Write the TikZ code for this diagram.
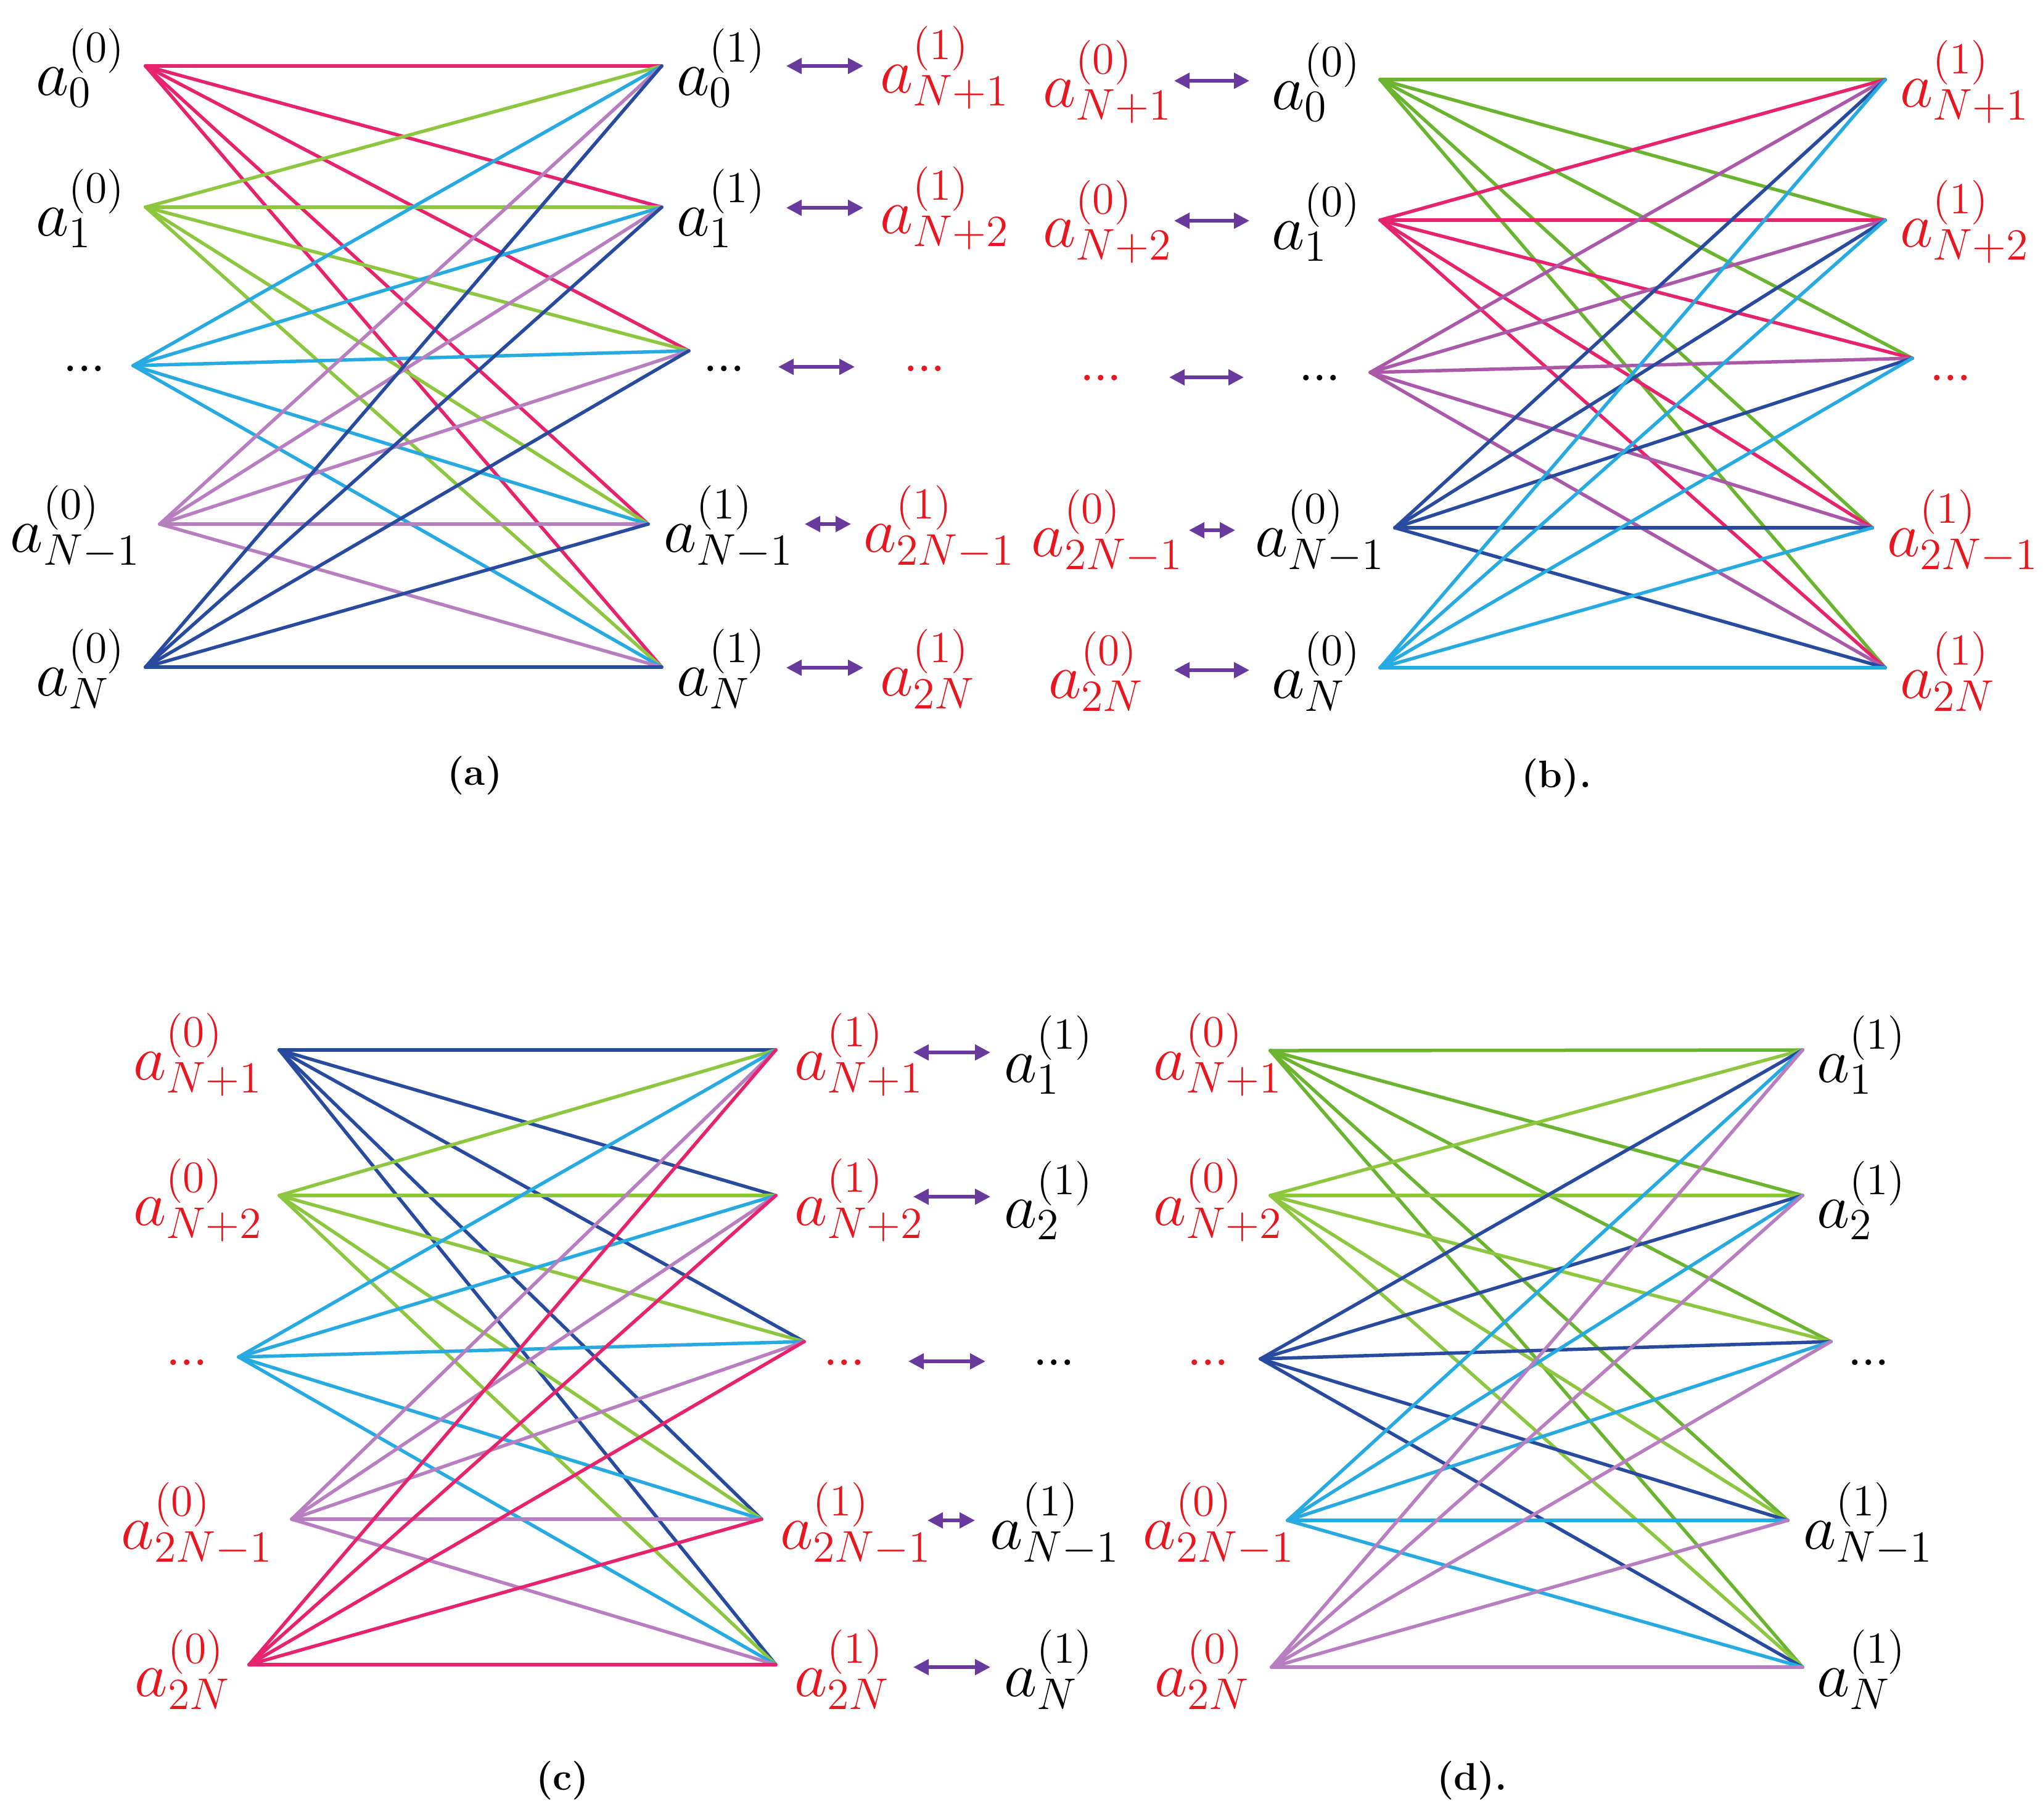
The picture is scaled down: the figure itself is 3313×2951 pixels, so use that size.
\documentclass[tikz,border=0pt]{standalone}
\usetikzlibrary{arrows.meta}
\definecolor{cpink}{RGB}{232,35,110}
\definecolor{cgreen}{RGB}{141,198,63}
\definecolor{cgreenD}{RGB}{106,180,47}
\definecolor{ccyan}{RGB}{39,170,225}
\definecolor{corchid}{RGB}{183,126,192}
\definecolor{cmag}{RGB}{170,88,168}
\definecolor{cblue}{RGB}{40,75,160}
\definecolor{carrow}{RGB}{105,58,158}
\definecolor{cred}{RGB}{232,22,30}
\newcommand\dts{.\kern-1.1pt.\kern-1.1pt.}
\begin{document}
\begin{tikzpicture}[x=0.2pt,y=-0.2pt,
  edge/.style={line width=1.1pt,line cap=round},
  dbl/.style={carrow,line width=1.1pt,{Triangle[length=5pt,width=5pt]}-{Triangle[length=5pt,width=5pt]}},
  lab/.style={inner sep=0pt,font=\fontsize{22}{26}\selectfont},
  rlab/.style={lab,text=cred},
  captext/.style={inner sep=0pt,font=\fontsize{12.5}{15}\selectfont\bfseries}]
\useasboundingbox (0,0) rectangle (3313,2951);

% ================= panel (a) =================
\coordinate (aL1) at (236,107);
\coordinate (aL2) at (236,336);
\coordinate (aL3) at (216,593);
\coordinate (aL4) at (259,850);
\coordinate (aL5) at (236,1082);
\coordinate (aR1) at (1073,107);
\coordinate (aR2) at (1073,336);
\coordinate (aR3) at (1117,569);
\coordinate (aR4) at (1051,850);
\coordinate (aR5) at (1073,1082);
\foreach \i/\c in {1/cpink,2/cgreen,3/ccyan,4/corchid,5/cblue}{
  \foreach \j in {1,...,5}{\draw[edge,\c] (aL\i) -- (aR\j);}}
\node[lab,anchor=east] (aT1) at (205,110) {$a_0^{(0)}$};
\node[lab,anchor=east] (aT2) at (205,338) {$a_1^{(0)}$};
\node[lab,anchor=base west] (aT3) at (100,602) {\dts};
\node[lab,anchor=east] (aT4) at (229,855) {$a_{N-1}^{(0)}$};
\node[lab,anchor=east] (aT5) at (205,1085) {$a_N^{(0)}$};
\node[lab,anchor=west] (aU1) at (1096,110) {$a_0^{(1)}$};
\node[lab,anchor=west] (aU2) at (1096,338) {$a_1^{(1)}$};
\node[lab,anchor=base west] (aU3) at (1137,602) {\dts};
\node[lab,anchor=west] (aU4) at (1075,855) {$a_{N-1}^{(1)}$};
\node[lab,anchor=west] (aU5) at (1096,1085) {$a_N^{(1)}$};
\node[rlab,anchor=west] (aV1) at (1426,110) {$a_{N+1}^{(1)}$};
\node[rlab,anchor=west] (aV2) at (1426,338) {$a_{N+2}^{(1)}$};
\node[rlab,anchor=base west] (aV3) at (1462,602) {\dts};
\node[rlab,anchor=west] (aV4) at (1399,855) {$a_{2N-1}^{(1)}$};
\node[rlab,anchor=west] (aV5) at (1426,1085) {$a_{2N}^{(1)}$};
\coordinate (aA1s) at (1275,107);  \coordinate (aA1e) at (1400,107);
\coordinate (aA2s) at (1275,337);  \coordinate (aA2e) at (1400,337);
\coordinate (aA3s) at (1262,595);  \coordinate (aA3e) at (1386,595);
\coordinate (aA4s) at (1305,850);  \coordinate (aA4e) at (1380,850);
\coordinate (aA5s) at (1275,1083); \coordinate (aA5e) at (1400,1083);
\foreach \k in {1,...,5}{\draw[dbl] (aA\k s) -- (aA\k e);}
\node[captext] (capa) at (770,1258) {(a)};

% ================= panel (b) =================
\coordinate (bL1) at (2238,129);
\coordinate (bL2) at (2238,357);
\coordinate (bL3) at (2222,604);
\coordinate (bL4) at (2262,856);
\coordinate (bL5) at (2238,1083);
\coordinate (bR1) at (3057,129);
\coordinate (bR2) at (3057,357);
\coordinate (bR3) at (3101,581);
\coordinate (bR4) at (3036,856);
\coordinate (bR5) at (3057,1083);
\foreach \i/\c in {1/cgreenD,2/cpink,3/cmag,4/cblue,5/ccyan}{
  \foreach \j in {1,...,5}{\draw[edge,\c] (bL\i) -- (bR\j);}}
\node[rlab,anchor=east] (bT1) at (1902,133) {$a_{N+1}^{(0)}$};
\node[rlab,anchor=east] (bT2) at (1902,360) {$a_{N+2}^{(0)}$};
\node[rlab,anchor=base west] (bT3) at (1748,617) {\dts};
\node[rlab,anchor=east] (bT4) at (1920,862) {$a_{2N-1}^{(0)}$};
\node[rlab,anchor=east] (bT5) at (1856,1089) {$a_{2N}^{(0)}$};
\node[lab,anchor=west] (bU1) at (2061,133) {$a_0^{(0)}$};
\node[lab,anchor=west] (bU2) at (2061,360) {$a_1^{(0)}$};
\node[lab,anchor=base west] (bU3) at (2103,617) {\dts};
\node[lab,anchor=west] (bU4) at (2034,862) {$a_{N-1}^{(0)}$};
\node[lab,anchor=west] (bU5) at (2061,1089) {$a_N^{(0)}$};
\node[rlab,anchor=west] (bV1) at (3080,133) {$a_{N+1}^{(1)}$};
\node[rlab,anchor=west] (bV2) at (3080,360) {$a_{N+2}^{(1)}$};
\node[rlab,anchor=base west] (bV3) at (3126,617) {\dts};
\node[rlab,anchor=west] (bV4) at (3059,862) {$a_{2N-1}^{(1)}$};
\node[rlab,anchor=west] (bV5) at (3080,1089) {$a_{2N}^{(1)}$};
\coordinate (bA1s) at (1904,131);  \coordinate (bA1e) at (2026,131);
\coordinate (bA2s) at (1904,358);  \coordinate (bA2e) at (2026,358);
\coordinate (bA3s) at (1896,612);  \coordinate (bA3e) at (2017,612);
\coordinate (bA4s) at (1928,860);  \coordinate (bA4e) at (2003,860);
\coordinate (bA5s) at (1904,1087); \coordinate (bA5e) at (2026,1087);
\foreach \k in {1,...,5}{\draw[dbl] (bA\k s) -- (bA\k e);}
\node[captext] (capb) at (2524,1262) {(b).};

% ================= panel (c) =================
\coordinate (cL1) at (453,1703);
\coordinate (cL2) at (453,1939);
\coordinate (cL3) at (387,2201);
\coordinate (cL4) at (473,2464);
\coordinate (cL5) at (404,2700);
\coordinate (cR1) at (1258,1703);
\coordinate (cR2) at (1258,1939);
\coordinate (cR3) at (1304,2176);
\coordinate (cR4) at (1235,2464);
\coordinate (cR5) at (1258,2700);
\foreach \i/\c in {1/cblue,2/cgreen,3/ccyan,4/corchid,5/cpink}{
  \foreach \j in {1,...,5}{\draw[edge,\c] (cL\i) -- (cR\j);}}
\node[rlab,anchor=east] (cT1) at (427,1711) {$a_{N+1}^{(0)}$};
\node[rlab,anchor=east] (cT2) at (427,1947) {$a_{N+2}^{(0)}$};
\node[rlab,anchor=base west] (cT3) at (266,2214) {\dts};
\node[rlab,anchor=east] (cT4) at (444,2472) {$a_{2N-1}^{(0)}$};
\node[rlab,anchor=east] (cT5) at (375,2708) {$a_{2N}^{(0)}$};
\node[rlab,anchor=west] (cU1) at (1287,1711) {$a_{N+1}^{(1)}$};
\node[rlab,anchor=west] (cU2) at (1287,1947) {$a_{N+2}^{(1)}$};
\node[rlab,anchor=base west] (cU3) at (1332,2214) {\dts};
\node[rlab,anchor=west] (cU4) at (1264,2472) {$a_{2N-1}^{(1)}$};
\node[rlab,anchor=west] (cU5) at (1287,2708) {$a_{2N}^{(1)}$};
\node[lab,anchor=west] (cV1) at (1627,1711) {$a_1^{(1)}$};
\node[lab,anchor=west] (cV2) at (1627,1947) {$a_2^{(1)}$};
\node[lab,anchor=base west] (cV3) at (1672,2214) {\dts};
\node[lab,anchor=west] (cV4) at (1604,2472) {$a_{N-1}^{(1)}$};
\node[lab,anchor=west] (cV5) at (1627,2708) {$a_N^{(1)}$};
\coordinate (cA1s) at (1481,1707); \coordinate (cA1e) at (1606,1707);
\coordinate (cA2s) at (1481,1941); \coordinate (cA2e) at (1606,1941);
\coordinate (cA3s) at (1473,2208); \coordinate (cA3e) at (1598,2208);
\coordinate (cA4s) at (1504,2466); \coordinate (cA4e) at (1581,2466);
\coordinate (cA5s) at (1481,2704); \coordinate (cA5e) at (1606,2704);
\foreach \k in {1,...,5}{\draw[dbl] (cA\k s) -- (cA\k e);}
\node[captext] (capc) at (912,2888) {(c)};

% ================= panel (d) =================
\coordinate (dL1) at (2060,1704);
\coordinate (dL2) at (2060,1939);
\coordinate (dL3) at (2044,2204);
\coordinate (dL4) at (2088,2466);
\coordinate (dL5) at (2062,2704);
\coordinate (dR1) at (2923,1703);
\coordinate (dR2) at (2923,1939);
\coordinate (dR3) at (2969,2176);
\coordinate (dR4) at (2899,2466);
\coordinate (dR5) at (2923,2704);
\foreach \i/\c in {1/cgreenD,2/cgreen,3/cblue,4/ccyan,5/corchid}{
  \foreach \j in {1,...,5}{\draw[edge,\c] (dL\i) -- (dR\j);}}
\node[rlab,anchor=east] (dT1) at (2081,1711) {$a_{N+1}^{(0)}$};
\node[rlab,anchor=east] (dT2) at (2081,1947) {$a_{N+2}^{(0)}$};
\node[rlab,anchor=base west] (dT3) at (1922,2214) {\dts};
\node[rlab,anchor=east] (dT4) at (2101,2472) {$a_{2N-1}^{(0)}$};
\node[rlab,anchor=east] (dT5) at (2028,2708) {$a_{2N}^{(0)}$};
\node[lab,anchor=west] (dU1) at (2945,1711) {$a_1^{(1)}$};
\node[lab,anchor=west] (dU2) at (2945,1947) {$a_2^{(1)}$};
\node[lab,anchor=base west] (dU3) at (2993,2214) {\dts};
\node[lab,anchor=west] (dU4) at (2923,2472) {$a_{N-1}^{(1)}$};
\node[lab,anchor=west] (dU5) at (2945,2708) {$a_N^{(1)}$};
\node[captext] (capd) at (2387,2888) {(d).};
\end{tikzpicture}
\end{document}
